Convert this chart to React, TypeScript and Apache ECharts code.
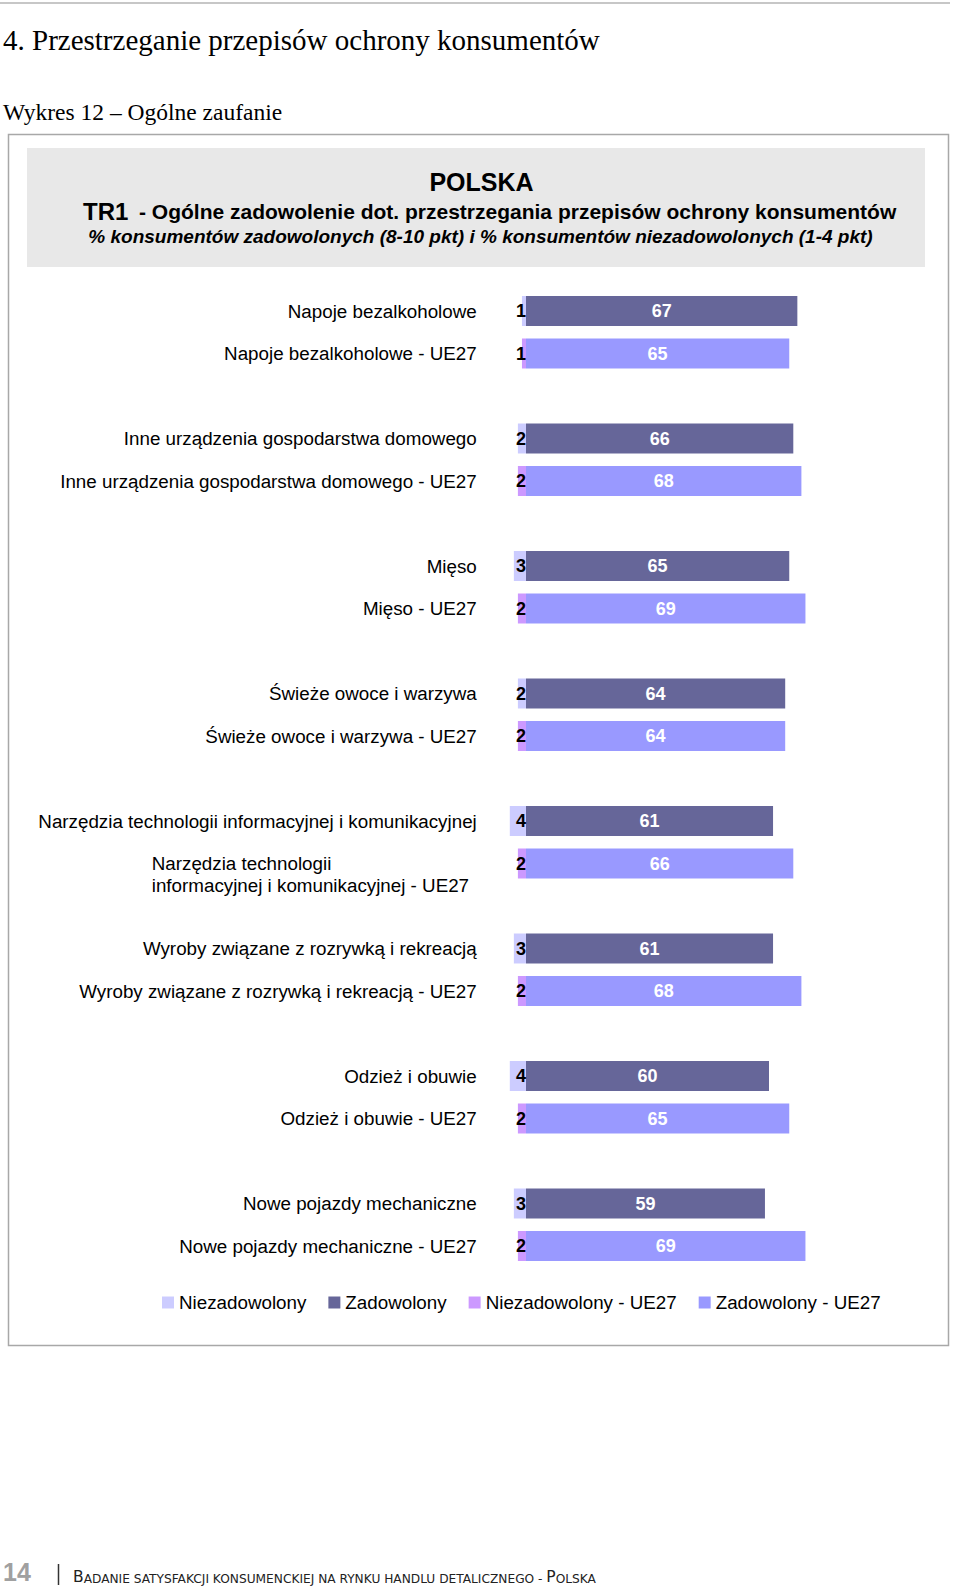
import React, { useEffect, useRef } from "react";
import * as echarts from "echarts";

const groups = [
  "Napoje bezalkoholowe",
  "Inne urządzenia gospodarstwa domowego",
  "Mięso",
  "Świeże owoce i warzywa",
  "Narzędzia technologii informacyjnej i komunikacyjnej",
  "Wyroby związane z rozrywką i rekreacją",
  "Odzież i obuwie",
  "Nowe pojazdy mechaniczne",
];
const euSuffix = " - UE27";
const satisfiedPL = [67, 66, 65, 64, 61, 61, 60, 59];
const satisfiedEU = [65, 68, 69, 64, 66, 68, 65, 69];
const dissatisfiedPL = [1, 2, 3, 2, 4, 3, 4, 3];
const dissatisfiedEU = [1, 2, 2, 2, 2, 2, 2, 2];
const seriesNames = ["Niezadowolony", "Zadowolony", "Niezadowolony - UE27", "Zadowolony - UE27"];

const WRAPPED = "Narzędzia technologii informacyjnej i komunikacyjnej - UE27";
const SANS = "Liberation Sans, Arial, sans-serif";

export default function App() {
  const ref = useRef<HTMLDivElement>(null);
  useEffect(() => {
    if (!ref.current) return;
    const chart = echarts.init(ref.current, undefined, { renderer: "svg" });

    const cats: string[] = [];
    const dPL: any[] = [], sPL: any[] = [], dEU: any[] = [], sEU: any[] = [];
    groups.forEach((g, i) => {
      cats.push(g);
      dPL.push(-dissatisfiedPL[i]); sPL.push(satisfiedPL[i]); dEU.push("-"); sEU.push("-");
      cats.push(g + euSuffix);
      dPL.push("-"); sPL.push("-"); dEU.push(-dissatisfiedEU[i]); sEU.push(satisfiedEU[i]);
      if (i < groups.length - 1) {
        cats.push("__gap" + i);
        dPL.push("-"); sPL.push("-"); dEU.push("-"); sEU.push("-");
      }
    });

    const negLabel = {
      show: true,
      position: "insideRight",
      distance: 0,
      formatter: (p: any) => String(Math.abs(p.value)),
      color: "#000",
      fontWeight: "bold",
      fontSize: 18,
      fontFamily: SANS,
    };
    const posLabel = {
      show: true,
      position: "inside",
      formatter: (p: any) => String(p.value),
      color: "#fff",
      fontWeight: "bold",
      fontSize: 18,
      fontFamily: SANS,
    };

    const mk = (name: string, data: any[], color: string, label: any) => ({
      name,
      type: "bar",
      stack: "all",
      data,
      barWidth: 30,
      itemStyle: { color },
      label,
      emphasis: { disabled: true },
    });

    chart.setOption({
      animation: false,
      backgroundColor: "#fff",
      grid: { left: 505.75, top: 289.75, width: 425.25, height: 977.5 },
      xAxis: {
        type: "value",
        min: -5,
        max: 100,
        show: false,
        splitLine: { show: false },
      },
      yAxis: {
        type: "category",
        inverse: true,
        data: cats,
        axisLine: { show: false },
        axisTick: { show: false },
        axisLabel: {
          interval: 0,
          margin: 29,
          color: "#000",
          fontSize: 18.8,
          fontFamily: SANS,
          lineHeight: 22,
          formatter: (v: string) => {
            if (v.startsWith("__gap")) return "";
            if (v === WRAPPED) return "{w| }\n{w|Narzędzia technologii}\n{w|informacyjnej i komunikacyjnej - UE27}";
            return v;
          },
          rich: {
            w: { width: 325, align: "left", fontSize: 18.8, fontFamily: SANS, color: "#000", lineHeight: 22 },
          },
        },
      },
      legend: {
        data: seriesNames,
        left: 157,
        top: 1288,
        itemWidth: 12,
        itemHeight: 12,
        itemGap: 22,
        icon: "rect",
        textStyle: { fontSize: 18.8, fontFamily: SANS, color: "#000" },
        selectedMode: false,
      },
      series: [
        mk(seriesNames[0], dPL, "#ccccff", negLabel),
        mk(seriesNames[1], sPL, "#666699", posLabel),
        mk(seriesNames[2], dEU, "#cc99ff", negLabel),
        mk(seriesNames[3], sEU, "#9999ff", posLabel),
      ],
      graphic: [
        { type: "line", shape: { x1: 0, y1: 3, x2: 950, y2: 3 }, style: { stroke: "#b4b4b4", lineWidth: 1.5 } },
        {
          type: "text", x: 3, y: 40,
          style: { text: "4. Przestrzeganie przepisów ochrony konsumentów", font: "29px 'Liberation Serif', serif", fill: "#000", verticalAlign: "middle" },
        },
        {
          type: "text", x: 3, y: 112,
          style: { text: "Wykres 12 – Ogólne zaufanie", font: "23.5px 'Liberation Serif', serif", fill: "#000", verticalAlign: "middle" },
        },
        { type: "rect", shape: { x: 8.5, y: 134.5, width: 940, height: 1211 }, style: { fill: "none", stroke: "#a8a8a8", lineWidth: 1.5 } },
        { type: "rect", shape: { x: 27, y: 148, width: 898, height: 119 }, style: { fill: "#e8e8e8" } },
        {
          type: "text", x: 481.5, y: 182,
          style: { text: "POLSKA", font: "bold 25px 'Liberation Sans', Arial, sans-serif", fill: "#000", align: "center", verticalAlign: "middle" },
        },
        {
          type: "text", x: 83, y: 211,
          style: { text: "TR1", font: "bold 24px 'Liberation Sans', Arial, sans-serif", fill: "#000", verticalAlign: "middle" },
        },
        {
          type: "text", x: 139, y: 211,
          style: { text: "- Ogólne zadowolenie dot. przestrzegania przepisów ochrony konsumentów", font: "bold 21px 'Liberation Sans', Arial, sans-serif", fill: "#000", verticalAlign: "middle" },
        },
        {
          type: "text", x: 480.5, y: 236,
          style: { text: "% konsumentów zadowolonych (8-10 pkt) i % konsumentów niezadowolonych (1-4 pkt)", font: "italic bold 19px 'Liberation Sans', Arial, sans-serif", fill: "#000", align: "center", verticalAlign: "middle" },
        },
        {
          type: "text", x: 3, y: 1572,
          style: { text: "14", font: "bold 25px 'Liberation Sans', Arial, sans-serif", fill: "#a0a0a0", verticalAlign: "middle" },
        },
        { type: "line", shape: { x1: 58.5, y1: 1564, x2: 58.5, y2: 1585 }, style: { stroke: "#333", lineWidth: 1.5 } },
        {
          type: "text", x: 73, y: 1585,
          style: {
            text: "{b|B}{s|ADANIE SATYSFAKCJI KONSUMENCKIEJ NA RYNKU HANDLU DETALICZNEGO - }{b|P}{s|OLSKA}",
            verticalAlign: "bottom",
            rich: {
              b: { fontSize: 15.5, fontFamily: "DejaVu Sans, sans-serif", fill: "#222", verticalAlign: "bottom", lineHeight: 18 },
              s: { fontSize: 12.2, fontFamily: "DejaVu Sans, sans-serif", fill: "#222", verticalAlign: "bottom", lineHeight: 18 },
            },
          },
        },
      ],
    });
    return () => chart.dispose();
  }, []);
  return <div ref={ref} style={{ position: "absolute", left: 0, top: 0, width: 960, height: 1588, background: "#fff" }} />;
}
